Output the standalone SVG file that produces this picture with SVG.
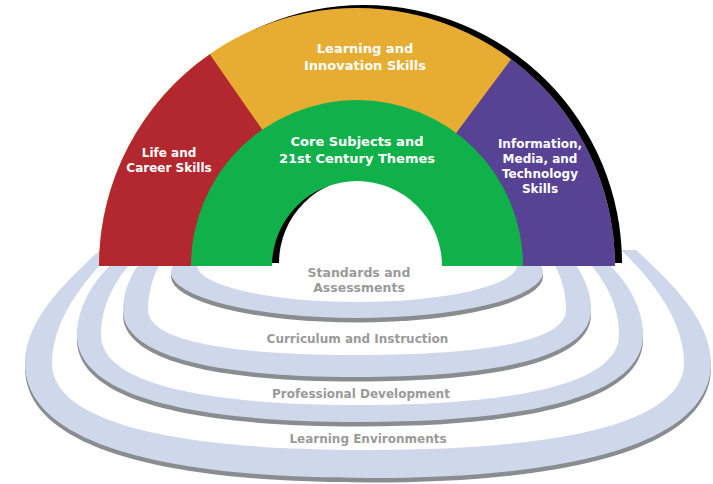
<svg xmlns="http://www.w3.org/2000/svg" width="713" height="484" viewBox="0 0 713 484">
  <defs>
    <clipPath id="ringClip">
      <rect x="0" y="265" width="713" height="219"/>
      <rect x="0" y="245" width="100" height="25"/>
      <rect x="612" y="240" width="101" height="30"/>
    </clipPath>
    <path id="r4o" d="M 100 250 C 70 278 25 318 25 363 C 25 437.75 145 478 368 478 C 591 478 711 437.75 711 363 C 711 318 666 278 636 250 Z"/>
    <path id="r3o" d="M 118 258 C 95 278 77 305 77 335 C 77 391.6 176 422 360 422 C 544 422 643 391.6 643 335 C 643 305 625 278 602 258 Z"/>
    <path id="r2o" d="M 143 258 C 130 275 123 292 123 310 C 123 353.6 205 377 357 377 C 509 377 591 353.6 591 310 C 591 292 584 275 571 258 Z"/>
  </defs>
  <style>
    .shadow { fill: #8a8d90; }
    .band { fill: #cfd8ea; }
    .hole { fill: #ffffff; }
    .arcText { font-family: "DejaVu Sans", Verdana, sans-serif; font-weight: bold; fill: #ffffff; text-anchor: middle; }
    .ringText { font-family: "DejaVu Sans", Verdana, sans-serif; font-weight: bold; fill: #9a9a9a; text-anchor: middle; }
  </style>
  <rect x="0" y="0" width="713" height="484" fill="#ffffff"/>

  <g id="rings" clip-path="url(#ringClip)">
    <g id="ring-learning-environments">
      <use href="#r4o" class="shadow" transform="translate(0,4.5)"/>
      <use href="#r4o" class="band"/>
      <path class="hole" d="M 115 250 C 88 276 52 318 52 363 C 52 419.6 162.6 450 368 450 C 573.4 450 684 419.6 684 363 C 684 318 648 276 621 250 Z"/>
    </g>
    <g id="ring-professional-development">
      <use href="#r3o" class="shadow" transform="translate(0,4.5)"/>
      <use href="#r3o" class="band"/>
      <path class="hole" d="M 135 258 C 115 280 101 305 101 335 C 101 380.5 191.6 405 360 405 C 528.4 405 619 380.5 619 335 C 619 305 605 280 585 258 Z"/>
    </g>
    <g id="ring-curriculum">
      <use href="#r2o" class="shadow" transform="translate(0,4.5)"/>
      <use href="#r2o" class="band"/>
      <path class="hole" d="M 163 258 C 153 275 148 292 148 310 C 148 339.3 221.1 355 357 355 C 492.9 355 566 339.3 566 310 C 566 292 561 275 551 258 Z"/>
    </g>
    <g id="ring-standards">
      <ellipse class="shadow" cx="357" cy="276.5" rx="186" ry="46"/>
      <ellipse class="band" cx="357" cy="272" rx="186" ry="46"/>
      <ellipse class="hole" cx="357" cy="265" rx="160" ry="37"/>
    </g>
  </g>

  <g id="ring-labels">
    <text class="ringText" font-size="12.5" x="359" y="277">Standards and</text>
    <text class="ringText" font-size="12.5" x="359" y="292">Assessments</text>
    <text class="ringText" font-size="12" x="357.5" y="343">Curriculum and Instruction</text>
    <text class="ringText" font-size="12" x="361" y="398">Professional Development</text>
    <text class="ringText" font-size="12" x="368" y="443">Learning Environments</text>
  </g>

  <g id="arc-shadow">
    <path fill="#000000" transform="translate(7,-3)" d="M 99 266 A 258 258 0 0 1 615 266 L 442 266 A 85 85 0 0 0 272 266 Z"/>
  </g>

  <g id="learning-innovation">
    <path fill="#e6ad32" d="M 99 266 A 258 258 0 0 1 615 266 L 517 266 A 160 160 0 0 0 197 266 Z"/>
    <text class="arcText" font-size="13" x="365" y="53">Learning and</text>
    <text class="arcText" font-size="13" x="365" y="70">Innovation Skills</text>
  </g>
  <g id="life-career">
    <path fill="#b3282f" d="M 99 266 A 258 258 0 0 1 209.8 54.2 L 265.7 134.6 A 160 160 0 0 0 197 266 Z"/>
    <text class="arcText" font-size="12" x="169" y="157">Life and</text>
    <text class="arcText" font-size="12" x="169" y="172">Career Skills</text>
  </g>
  <g id="information-media-technology">
    <path fill="#584293" d="M 511.2 59.1 A 258 258 0 0 1 615 266 L 517 266 A 160 160 0 0 0 452.6 137.7 Z"/>
    <text class="arcText" font-size="12" x="540" y="148">Information,</text>
    <text class="arcText" font-size="12" x="540" y="163">Media, and</text>
    <text class="arcText" font-size="12" x="540" y="178">Technology</text>
    <text class="arcText" font-size="12" x="540" y="193">Skills</text>
  </g>
  <g id="core-subjects">
    <path fill="#10b04b" d="M 191 266 A 166 166 0 0 1 523 266 L 442 266 A 85 85 0 0 0 272 266 Z"/>
    <text class="arcText" font-size="13" x="357" y="146">Core Subjects and</text>
    <text class="arcText" font-size="13" x="357" y="163">21st Century Themes</text>
  </g>
</svg>
